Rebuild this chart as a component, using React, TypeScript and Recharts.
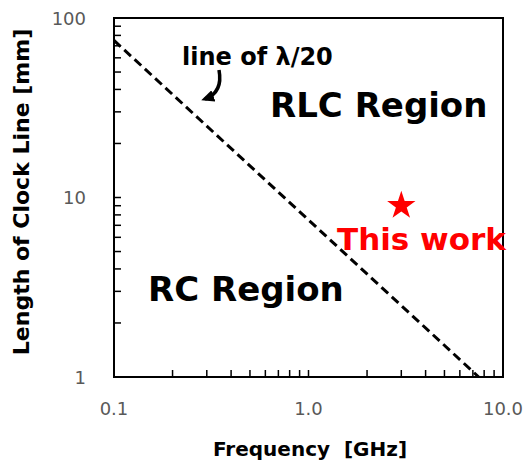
import { ScatterChart, Scatter, XAxis, YAxis, ReferenceArea, Symbols } from 'recharts'

// dashed λ/20 boundary line (frequency in GHz, length in mm)
const boundaryFreq = [0.1, 7.5]
const boundaryLength = [75, 1]

// "This work" point
const workFreq = [3]
const workLength = [9]

const xTicks = [0.1, 0.2, 0.3, 0.4, 0.5, 0.6, 0.7, 0.8, 0.9, 1, 2, 3, 4, 5, 6, 7, 8, 9, 10]
const yTicks = [1, 2, 3, 4, 5, 6, 7, 8, 9, 10, 20, 30, 40, 50, 60, 70, 80, 90, 100]
const xLabelValues = [0.1, 1, 10]
const xLabelText = ['0.1', '1.0', '10.0']
const yLabelValues = [1, 10, 100]
const yLabelText = ['1', '10', '100']

const boundaryData = boundaryFreq.map((f, i) => ({ f, len: boundaryLength[i] }))
const workData = workFreq.map((f, i) => ({ f, len: workLength[i] }))

const FONT = '"DejaVu Sans", Verdana, sans-serif'
const TICK_GRAY = '#595959'

function XTick(props: any) {
  const { x, y, payload } = props
  const idx = xLabelValues.indexOf(payload.value)
  return (
    <g>
      <line x1={x} y1={y} x2={x} y2={y - 7} stroke="#000" strokeWidth={1.5} />
      {idx >= 0 && (
        <text x={x} y={y + 38} textAnchor="middle" fontSize={18} fill={TICK_GRAY} fontFamily={FONT}>
          {xLabelText[idx]}
        </text>
      )}
    </g>
  )
}

function YTick(props: any) {
  const { x, y, payload } = props
  const idx = yLabelValues.indexOf(payload.value)
  return (
    <g>
      <line x1={x} y1={y} x2={x + 7} y2={y} stroke="#000" strokeWidth={1.5} />
      {idx >= 0 && (
        <text x={x - 28} y={y + 6.5} textAnchor="end" fontSize={18} fill={TICK_GRAY} fontFamily={FONT}>
          {yLabelText[idx]}
        </text>
      )}
    </g>
  )
}

const StarShape = (props: any) => <Symbols cx={props.cx} cy={props.cy} type="star" size={250} fill="#ff0000" />

export default function App() {
  return (
    <div style={{ position: 'absolute', left: 0, top: 0, width: 525, height: 461, background: '#fff' }}>
      <ScatterChart width={525} height={461} margin={{ top: 18, right: 22, bottom: 0, left: 0 }}>
        <XAxis
          type="number"
          dataKey="f"
          scale="log"
          domain={[0.1, 10]}
          allowDataOverflow
          ticks={xTicks}
          interval={0}
          tickSize={0}
          tickMargin={0}
          height={84}
          axisLine={{ stroke: '#000', strokeWidth: 2 }}
          tick={<XTick />}
        />
        <YAxis
          type="number"
          dataKey="len"
          scale="log"
          domain={[1, 100]}
          allowDataOverflow
          ticks={yTicks}
          interval={0}
          tickSize={0}
          tickMargin={0}
          width={114}
          axisLine={{ stroke: '#000', strokeWidth: 2 }}
          tick={<YTick />}
        />
        <ReferenceArea x1={0.1} x2={10} y1={1} y2={100} fill="none" stroke="#000" strokeWidth={2} />
        <Scatter
          data={boundaryData}
          line={{ stroke: '#000', strokeWidth: 3, strokeDasharray: '9 5' }}
          shape={() => <g />}
          isAnimationActive={false}
        />
        <Scatter data={workData} shape={StarShape} fill="#ff0000" isAnimationActive={false} />
      </ScatterChart>

      <svg width={525} height={461} style={{ position: 'absolute', left: 0, top: 0, pointerEvents: 'none' }}>
        <defs>
          <marker id="arrowHead" markerWidth="13" markerHeight="12" refX="9" refY="6" orient="auto" markerUnits="userSpaceOnUse">
            <path d="M0,0 L13,6 L0,12 z" fill="#000" />
          </marker>
        </defs>
        <text
          transform="translate(29,192) rotate(-90)"
          textAnchor="middle"
          fontFamily={FONT}
          fontWeight="bold"
          fontSize={22}
          fill="#000"
        >
          Length of Clock Line [mm]
        </text>
        <text x={310} y={456} textAnchor="middle" fontFamily={FONT} fontWeight="bold" fontSize={20} fill="#000" style={{ whiteSpace: 'pre' }}>
          {'Frequency  [GHz]'}
        </text>
        <text x={182} y={65} fontFamily={FONT} fontWeight="bold" fontSize={24} fill="#000">
          line of λ/20
        </text>
        <path d="M219,70 C222,86 216,95 205,99" stroke="#000" strokeWidth={3.5} fill="none" markerEnd="url(#arrowHead)" />
        <text x={270} y={117} fontFamily={FONT} fontWeight="bold" fontSize={34} fill="#000">
          RLC Region
        </text>
        <text x={148} y={301} fontFamily={FONT} fontWeight="bold" fontSize={34} fill="#000">
          RC Region
        </text>
        <text x={337} y={250} fontFamily={FONT} fontWeight="bold" fontSize={31} fill="#ff0000">
          This work
        </text>
      </svg>
    </div>
  )
}
